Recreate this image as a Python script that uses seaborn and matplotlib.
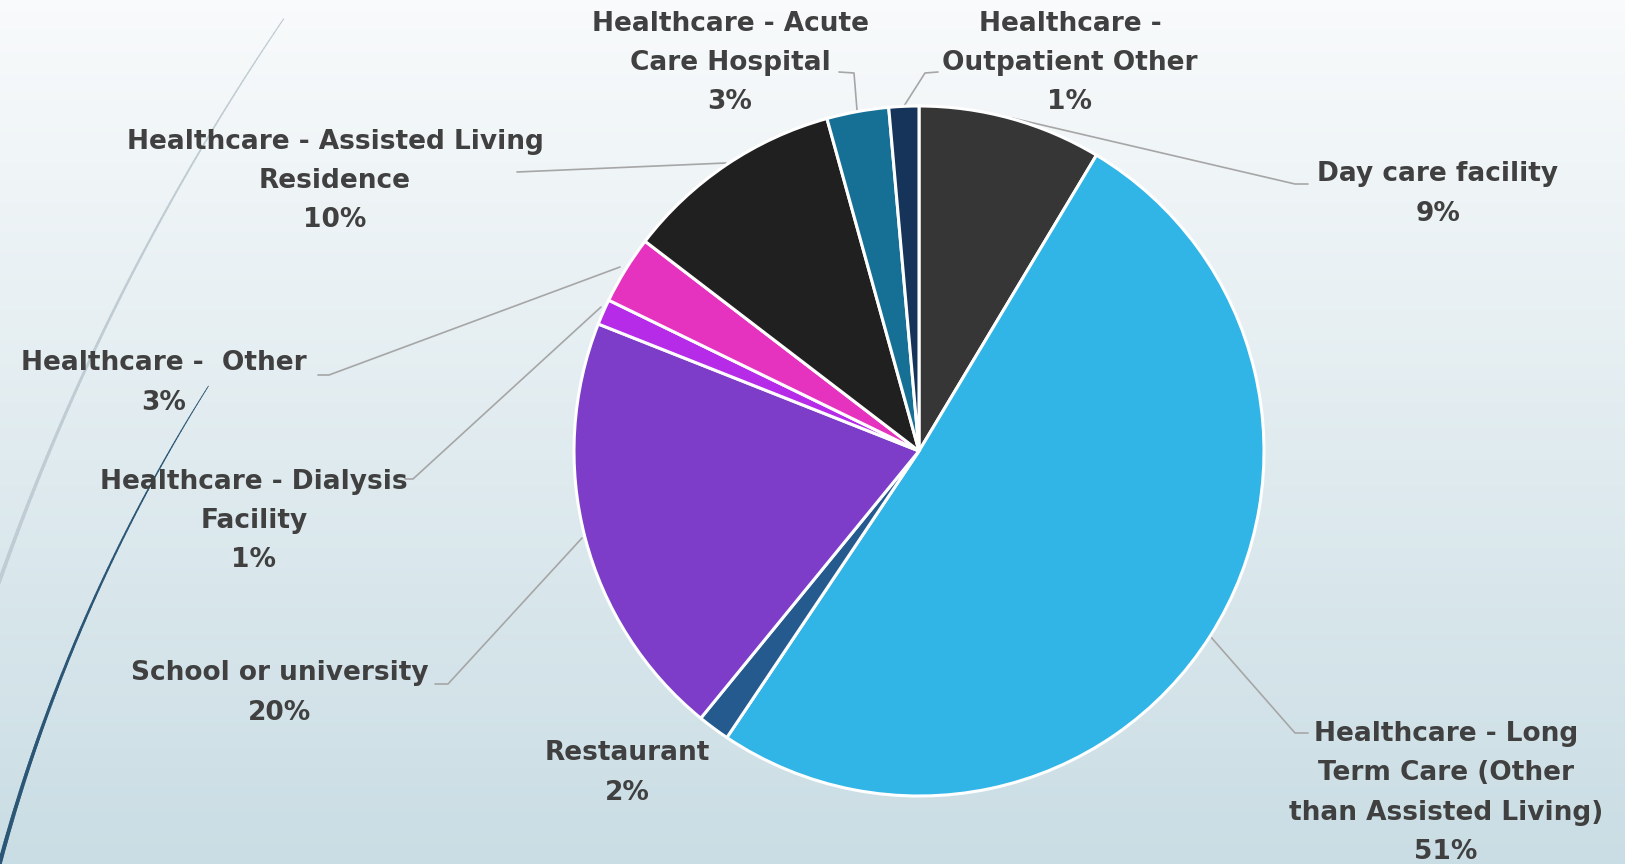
import numpy as np
import matplotlib
matplotlib.use("Agg")
import matplotlib.pyplot as plt
from matplotlib.collections import LineCollection
import seaborn as sns

# ---------------------------------------------------------------------------
# Data (clockwise from 12 o'clock)
# ---------------------------------------------------------------------------
categories = [
    "Day care facility",
    "Healthcare - Long\nTerm Care (Other\nthan Assisted Living)",
    "Restaurant",
    "School or university",
    "Healthcare - Dialysis\nFacility",
    "Healthcare -  Other",
    "Healthcare - Assisted Living\nResidence",
    "Healthcare - Acute\nCare Hospital",
    "Healthcare -\nOutpatient Other",
]
shares = [8.6, 50.8, 1.5, 20.1, 1.2, 3.2, 10.3, 2.9, 1.4]
slice_colours = ["#363636", "#31B4E6", "#255A8E", "#7D3DC9", "#B52BE8",
                 "#E633BF", "#202020", "#167096", "#16345A"]

# ---------------------------------------------------------------------------
# Layout (pixel coords, y measured from top; flipped when drawn)
# ---------------------------------------------------------------------------
W, H = 1625, 864
CX, CY, R = 919, H - 451, 345
label_xy = [(1438, 194), (1446, 793), (627, 773), (280, 693),
            (254, 521), (164, 383), (335, 181), (730, 63), (1070, 63)]
leaders = [
    [(1012, 118), (1295, 184), (1308, 184)],
    [(1210, 636), (1295, 733), (1308, 733)],
    None,
    [(582, 538), (448, 684), (435, 684)],
    [(601, 307), (413, 479), (405, 479)],
    [(620, 267), (329, 375), (318, 375)],
    [(726, 163), (517, 172)],
    [(857, 110), (854, 73), (839, 72)],
    [(904, 106), (925, 73), (938, 72)],
]

sns.set_theme(style="white")
plt.rcParams["font.family"] = ["DejaVu Sans"]

fig = plt.figure(figsize=(W / 100, H / 100), dpi=100)
ax = fig.add_axes([0, 0, 1, 1])

# background gradient
grad = np.linspace(0, 1, 256)[:, None]
top = np.array([0.975, 0.982, 0.986])
bot = np.array([0.792, 0.868, 0.895])
img = top[None, None, :] * (1 - grad[..., None]) + bot[None, None, :] * grad[..., None]
ax.imshow(img, extent=[0, W, 0, H], aspect="auto", zorder=0, origin="upper")


def arc(cx, cy, r, a0, a1, w0, w1, colour):
    t = np.radians(np.linspace(a0, a1, 200))
    pts = np.column_stack([cx + r * np.cos(t), cy + r * np.sin(t)])
    segs = np.stack([pts[:-1], pts[1:]], axis=1)
    lc = LineCollection(segs, colors=colour, linewidths=np.linspace(w0, w1, len(segs)),
                        zorder=1, capstyle="round")
    ax.add_collection(lc)


# decorative theme arcs
arc(2310, H - 1396, 2450, 145.8, 166, 0.8, 3.4, "#BFCCD3")
arc(1685, H - 1316, 1745, 147.8, 168, 0.6, 3.4, "#2B5675")

wedges, _ = ax.pie(
    shares, colors=slice_colours, startangle=90, counterclock=False,
    center=(CX, CY), radius=R,
    wedgeprops=dict(edgecolor="white", linewidth=2.2),
)
for w in wedges:
    w.set_zorder(3)

for lab, val, (x, y) in zip(categories, shares, label_xy):
    ax.text(x, H - y, f"{lab}\n{round(val):d}%", ha="center", va="center",
            fontsize=19, fontweight="bold", color="#404040",
            linespacing=1.66, zorder=5)

for pts in leaders:
    if pts is None:
        continue
    xs = [p[0] for p in pts]
    ys = [H - p[1] for p in pts]
    ax.plot(xs, ys, color="#A6A6A6", lw=1.2, zorder=2)

ax.set_xlim(0, W)
ax.set_ylim(0, H)
ax.set_aspect("equal")
ax.axis("off")

fig.savefig("out.png", dpi=100)
plt.close(fig)
